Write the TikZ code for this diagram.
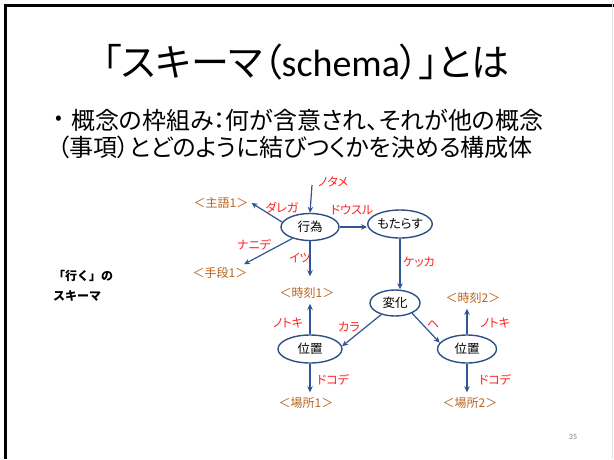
\documentclass[tikz,border=0pt]{standalone}
\usepackage{fontspec}
\setmainfont{Noto Sans CJK JP}[RawFeature=+palt]
\newfontfamily\jpfull{Noto Sans CJK JP}
\newfontfamily\lat{Carlito}
\usetikzlibrary{arrows.meta,shapes.geometric}
\definecolor{arrowblue}{HTML}{2F5597}
\definecolor{ellblue}{HTML}{2E5087}
\definecolor{lblred}{HTML}{FF2020}
\definecolor{slotbrown}{HTML}{B8651E}
\tikzset{
  x=1pt, y=-1pt,
  concept/.style={ellipse, draw=ellblue, line width=1.4pt, fill=white, inner sep=0pt,
    font=\fontsize{12.5}{14}\selectfont},
  slot/.style={text=slotbrown, inner sep=3pt, font=\fontsize{12}{14}\selectfont},
  rel/.style={text=lblred, inner sep=0pt, font=\fontsize{12}{13}\selectfont},
  conn/.style={draw=arrowblue, line width=1.2pt, -{Stealth[length=6pt,width=5.5pt]}},
}
\begin{document}
\begin{tikzpicture}
\useasboundingbox (0,0) rectangle (614,459);
\fill[white] (0,0) rectangle (614,459);
% slide frame
\fill[black] (4,4) rectangle (614,7);
\fill[black] (4,4) rectangle (7,459);
\draw[gray!25, line width=0.8pt] (612.5,0) -- (612.5,459);

% title
\node[inner sep=0pt, font=\fontsize{38}{44}\selectfont] (title) at (306,62)
  {「スキーマ（{\lat schema}）」とは};
% bullet
\node[inner sep=0pt, font=\fontsize{20}{26}\selectfont] (bul) at (59,120) {•};
\node[inner sep=0pt, anchor=west, font=\fontsize{24}{28}\selectfont] (line1) at (71,120)
  {概念の枠組み：何が含意され、それが他の概念};
\node[inner sep=0pt, anchor=west, font=\fontsize{24}{28}\selectfont] (line2) at (57,147)
  {（事項）とどのように結びつくかを決める構成体};

% side label
\node[inner sep=0pt, align=left, anchor=north west, font=\jpfull\bfseries\fontsize{12}{20}\selectfont] (side) at (53,270)
  {「行く」の\\スキーマ};

% concepts
\node[concept, minimum width=58pt, minimum height=27pt] (xw) at (310,227) {行為};
\node[concept, minimum width=59pt, minimum height=28pt] (mt) at (400,224) {もたらす};
\node[concept, minimum width=50pt, minimum height=26pt] (hc) at (395,303) {変化};
\node[concept, minimum width=64pt, minimum height=28pt] (iL) at (310,349) {位置};
\node[concept, minimum width=59pt, minimum height=28pt] (iR) at (467,349) {位置};

% slots
\node[slot] (s1) at (221,203) {＜主語1＞};
\node[slot] (s2) at (220,273) {＜手段1＞};
\node[slot] (t1) at (307,293) {＜時刻1＞};
\node[slot] (t2) at (473,298) {＜時刻2＞};
\node[slot] (p1) at (306,403) {＜場所1＞};
\node[slot] (p2) at (470,403) {＜場所2＞};

\coordinate (top) at (312,185);

% connectors
\draw[conn] (top) -- (xw.north);
\draw[conn] (xw.170) -- (s1.east);
\draw[conn] (xw.213) -- (s2.20);
\draw[conn, shorten >=8pt] (xw.south) -- (xw.south |- t1.north);
\draw[conn] (xw.east) -- (xw.east -| mt.west);
\draw[conn] (mt.south) -- (mt.south |- hc.north);
\draw[conn] (hc.220) -- (iL.5);
\draw[conn] (hc.329) -- (iR.167);
\draw[conn, shorten >=2pt] (iL.north) -- (iL.north |- t1.south);
\draw[conn, shorten >=2pt] (iR.north) -- (iR.north |- t2.south);
\draw[conn, shorten >=2pt] (iL.south) -- (iL.south |- p1.north);
\draw[conn, shorten >=2pt] (iR.south) -- (iR.south |- p2.north);

% relation labels
\node[rel] (rNotame) at (333,182) {ノタメ};
\node[rel] (rDarega) at (282,208) {ダレガ};
\node[rel] (rDousuru) at (352,210) {ドウスル};
\node[rel] (rNanide) at (254,245) {ナニデ};
\node[rel] (rItsu) at (300,258) {イツ};
\node[rel] (rKekka) at (419,262) {ケッカ};
\node[rel] (rNotokiL) at (288,323) {ノトキ};
\node[rel] (rKara) at (349,327) {カラ};
\node[rel] (rHe) at (433,325) {ヘ};
\node[rel] (rNotokiR) at (495,323) {ノトキ};
\node[rel] (rDokodeL) at (333,380) {ドコデ};
\node[rel] (rDokodeR) at (495,380) {ドコデ};

% page number
\node[inner sep=0pt, text=gray, font=\lat\fontsize{8}{10}\selectfont] (pg) at (573,437) {35};
\end{tikzpicture}
\end{document}
